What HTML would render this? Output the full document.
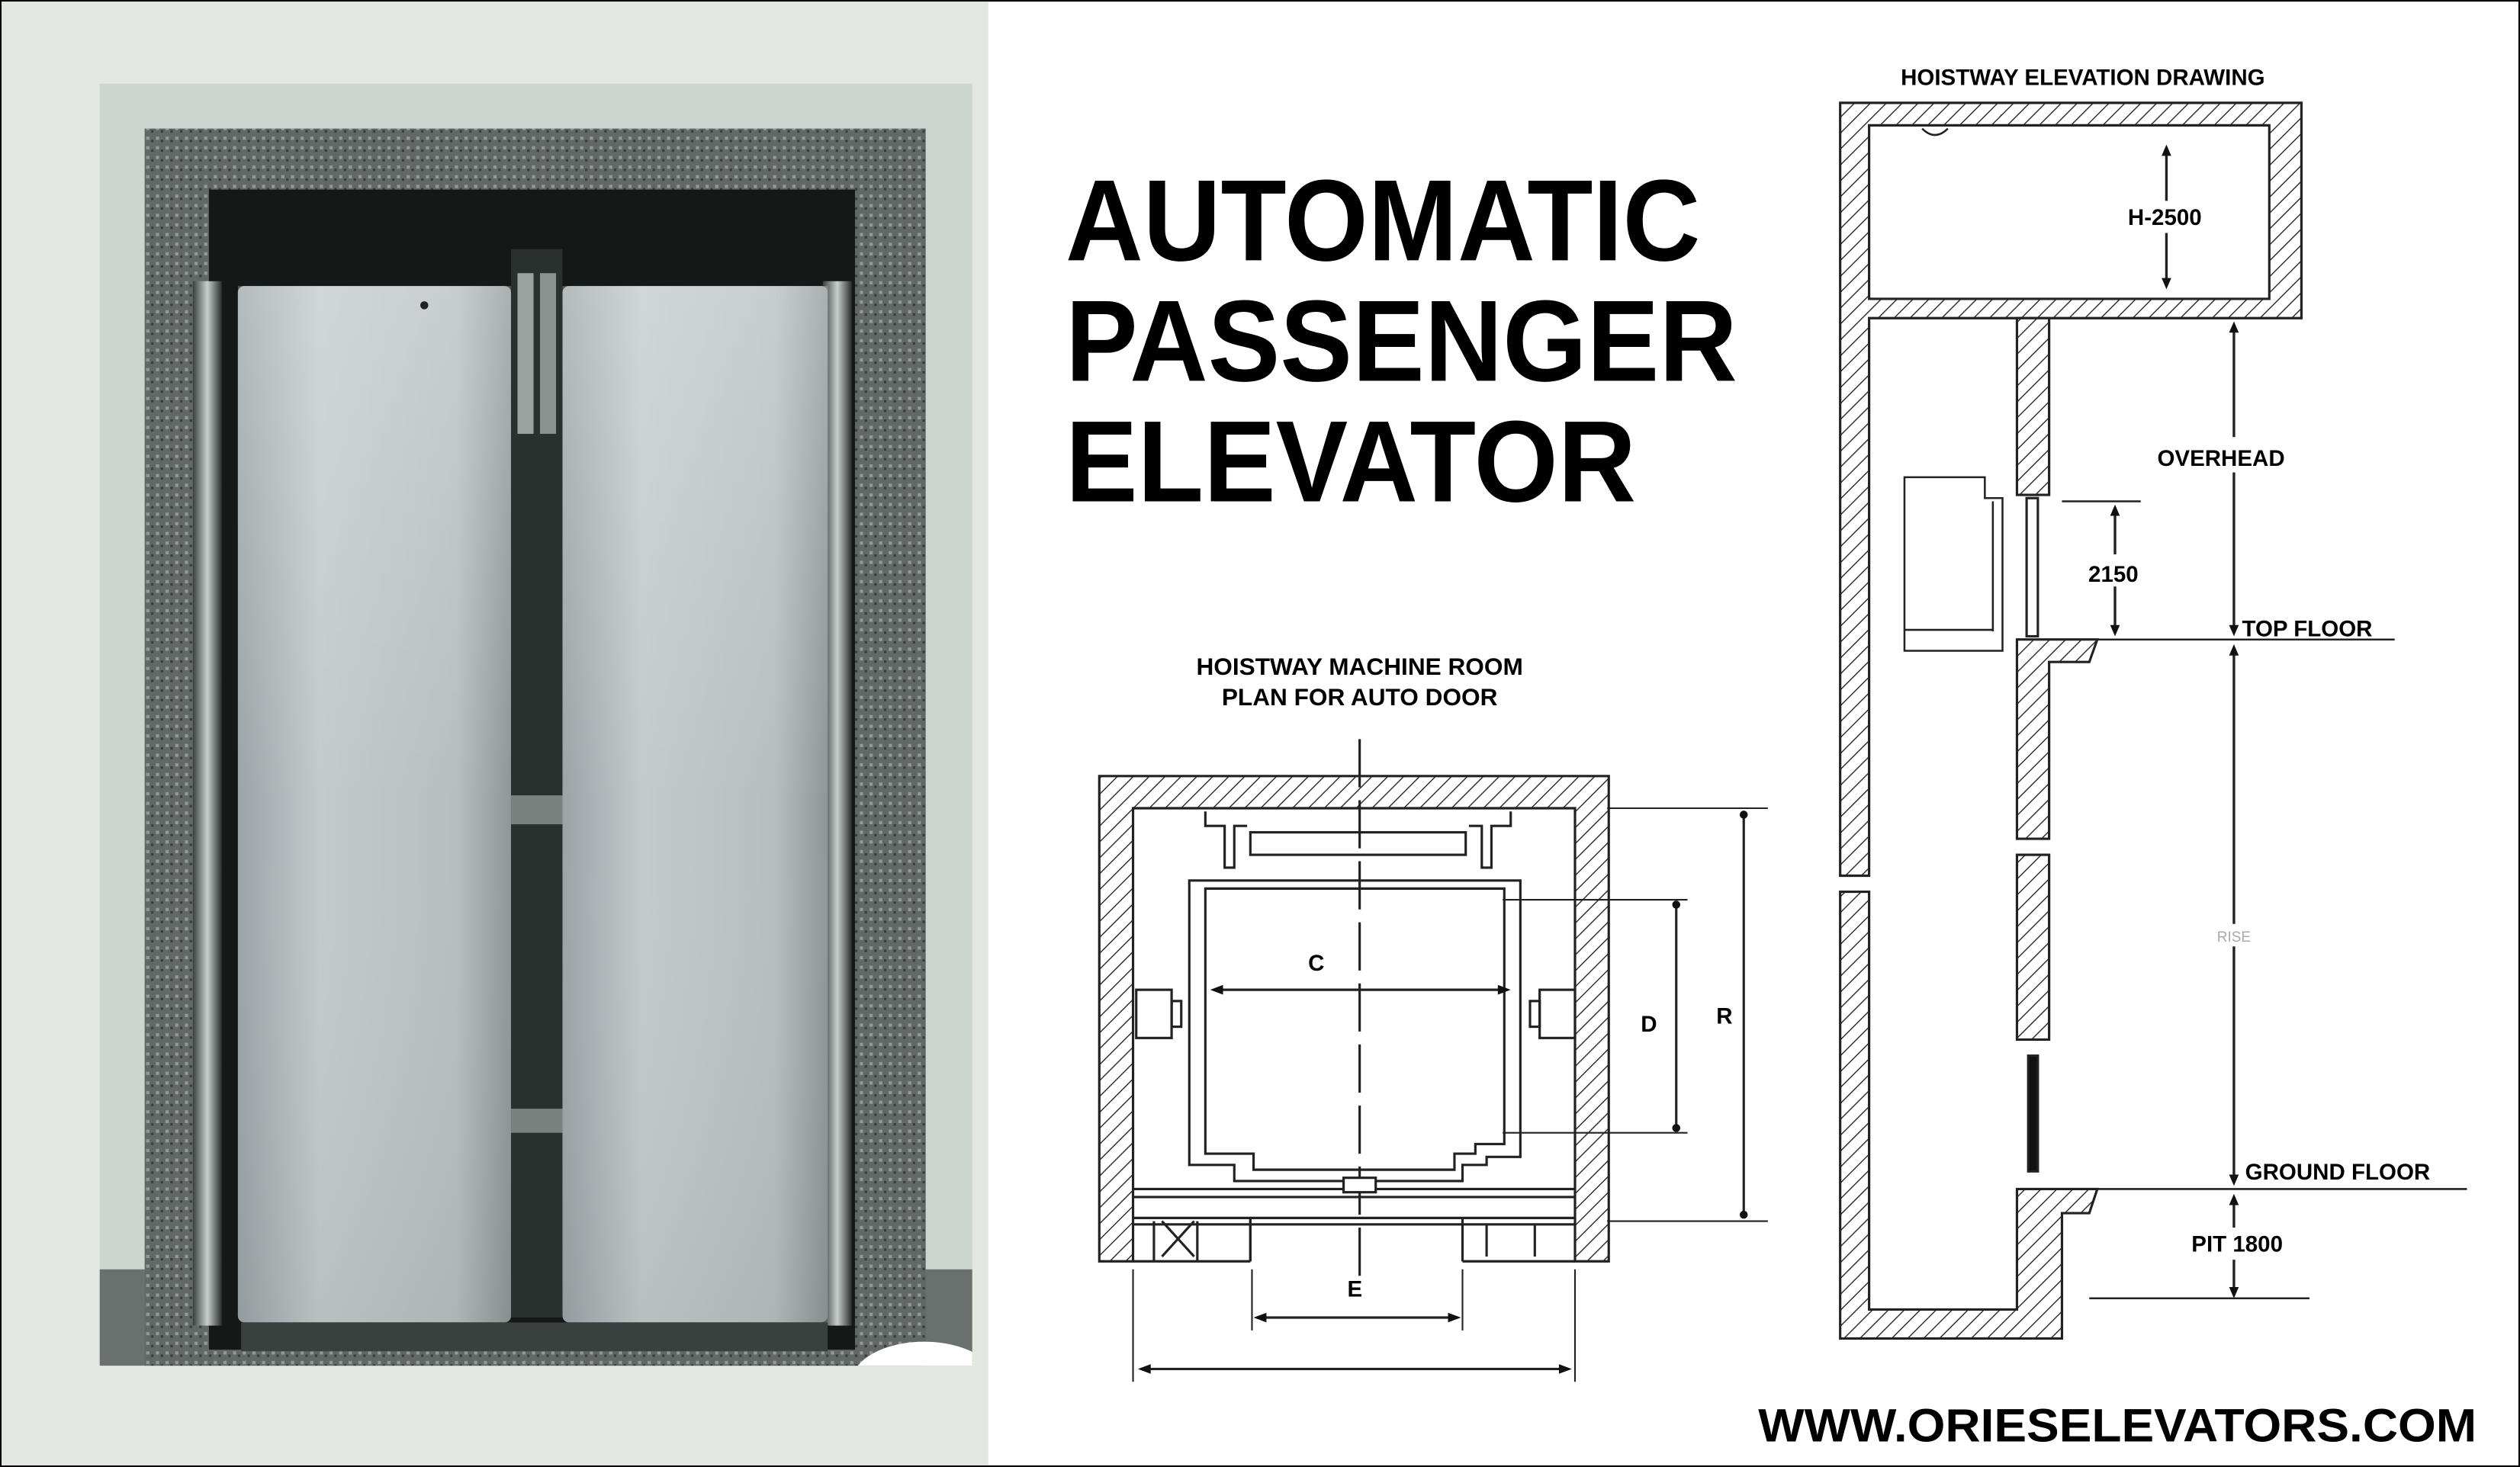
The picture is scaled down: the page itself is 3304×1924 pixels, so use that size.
<!DOCTYPE html>
<html><head><meta charset="utf-8">
<style>
html,body{margin:0;padding:0;background:#fff;}
svg{display:block;}
text{font-family:"Liberation Sans",Arial,sans-serif;font-weight:bold;fill:#000;}
</style></head>
<body>
<svg width="3304" height="1924" viewBox="0 0 1568 913" preserveAspectRatio="none" xmlns="http://www.w3.org/2000/svg">
<defs>
<pattern id="h" patternUnits="userSpaceOnUse" width="7" height="7" patternTransform="rotate(45)">
<rect width="7" height="7" fill="#fff"/><line x1="0" y1="0" x2="0" y2="7" stroke="#222" stroke-width="1.3"/>
</pattern>
<linearGradient id="door" x1="0" y1="0" x2="1" y2="0">
<stop offset="0" stop-color="#9aa4a6"/><stop offset="0.3" stop-color="#c2cacc"/><stop offset="0.8" stop-color="#b6bec0"/><stop offset="1" stop-color="#8e9698"/>
</linearGradient>
<linearGradient id="doorv" x1="0" y1="0" x2="0" y2="1">
<stop offset="0" stop-color="#ffffff" stop-opacity="0.25"/><stop offset="0.5" stop-color="#ffffff" stop-opacity="0"/><stop offset="1" stop-color="#000" stop-opacity="0.05"/>
</linearGradient>
<linearGradient id="jamb" x1="0" y1="0" x2="1" y2="0">
<stop offset="0" stop-color="#3a3f3e"/><stop offset="0.5" stop-color="#c8d0cc"/><stop offset="1" stop-color="#2a2e2d"/>
</linearGradient>
<pattern id="gran" patternUnits="userSpaceOnUse" width="6" height="6">
<rect width="6" height="6" fill="#626866"/><rect x="1" y="1" width="2" height="2" fill="#929996"/><rect x="4" y="3" width="1.5" height="1.5" fill="#383c3b"/>
</pattern>
<clipPath id="ph"><rect x="62" y="52" width="543" height="798"/></clipPath>
</defs>

<rect x="0.5" y="0.5" width="1567" height="912" fill="#fff" stroke="#000" stroke-width="1"/>

<rect x="1" y="1" width="614" height="911" fill="#e2e7e2"/>
<g clip-path="url(#ph)">
<rect x="62" y="52" width="543" height="798" fill="#cdd5d0"/>
<rect x="62" y="790" width="543" height="60" fill="#6a706e"/>
<rect x="90" y="80" width="486" height="770" fill="url(#gran)"/>
<rect x="130" y="118" width="402" height="722" fill="#141816"/>
<rect x="120" y="175" width="18" height="650" fill="url(#jamb)"/>
<rect x="512" y="175" width="18" height="650" fill="url(#jamb)"/>
<rect x="148" y="178" width="170" height="645" rx="4" fill="url(#door)"/>
<rect x="148" y="178" width="170" height="645" fill="url(#doorv)"/>
<rect x="350" y="178" width="165" height="645" rx="4" fill="url(#door)"/>
<rect x="350" y="178" width="165" height="645" fill="url(#doorv)"/>
<rect x="318" y="155" width="32" height="665" fill="#2a302e"/>
<rect x="322" y="170" width="10" height="100" fill="#9aa2a0"/>
<rect x="336" y="170" width="10" height="100" fill="#8a9290"/>
<rect x="318" y="495" width="32" height="18" fill="#7a827f"/>
<rect x="318" y="690" width="32" height="15" fill="#7a827f"/>
<rect x="150" y="823" width="365" height="18" fill="#3a403e"/>
<circle cx="264" cy="190" r="2.5" fill="#222"/>
<ellipse cx="575" cy="860" rx="45" ry="25" fill="#fff"/>
</g>

<text x="663" y="162" font-size="72" textLength="395" lengthAdjust="spacingAndGlyphs">AUTOMATIC</text>
<text x="663" y="237" font-size="72" textLength="418" lengthAdjust="spacingAndGlyphs">PASSENGER</text>
<text x="663" y="312" font-size="72" textLength="355" lengthAdjust="spacingAndGlyphs">ELEVATOR</text>

<text x="846" y="420" font-size="15" text-anchor="middle">HOISTWAY MACHINE ROOM</text>
<text x="846" y="439" font-size="15" text-anchor="middle">PLAN FOR AUTO DOOR</text>
<g stroke="#222" stroke-width="1.5" fill="none">
<path d="M684,483 H1001 V785 H980 V503 H705 V785 H684 Z" fill="url(#h)"/>
<line x1="846" y1="460" x2="846" y2="800" stroke-dasharray="30,8"/>
<path d="M750,505 V514 H762 V540 H768 V514 H776"/><path d="M940,505 V514 H928 V540 H922 V514 H914"/>
<rect x="778" y="518" width="134" height="14"/>
<path d="M740,548 H946 V720 H925 V725 H910 V735 H768 V725 H740 Z"/>
<path d="M750,553 H936 V712 H918 V718 H905 V728 H780 V718 H750 Z"/>
<line x1="705" y1="740" x2="980" y2="740"/>
<line x1="705" y1="745" x2="980" y2="745"/>
<line x1="705" y1="762" x2="980" y2="762"/>
<path d="M705,758 H778 V785 M705,785 H778"/>
<path d="M723,760 L743,782 M743,760 L723,782 M718,760 V785 M745,760 V785"/>
<path d="M910,758 H980 M910,785 H980 M910,758 V785 M925,762 V782 M955,762 V782"/>
<path d="M778,758 V785 M778,758 H910"/>
<rect x="836" y="733" width="20" height="9" fill="#fff"/>
<rect x="707" y="616" width="22" height="30"/><rect x="729" y="623" width="6" height="16"/>
<rect x="958" y="616" width="22" height="30"/><rect x="952" y="623" width="6" height="16"/>
<line x1="1000" y1="503" x2="1100" y2="503" stroke-width="1"/>
<line x1="1000" y1="760" x2="1100" y2="760" stroke-width="1"/>
<line x1="1085" y1="507" x2="1085" y2="756"/>
<line x1="935" y1="560" x2="1050" y2="560" stroke-width="1"/>
<line x1="935" y1="705" x2="1050" y2="705" stroke-width="1"/>
<line x1="1043" y1="563" x2="1043" y2="702"/>
<line x1="755" y1="616" x2="938" y2="616"/>
<line x1="705" y1="790" x2="705" y2="860" stroke-width="1"/><line x1="980" y1="790" x2="980" y2="860" stroke-width="1"/>
<line x1="710" y1="852" x2="976" y2="852"/>
<line x1="779" y1="790" x2="779" y2="828" stroke-width="1"/><line x1="910" y1="790" x2="910" y2="828" stroke-width="1"/>
<line x1="782" y1="820" x2="907" y2="820"/>
</g>
<g fill="#111">
<circle cx="1085" cy="507" r="2.5"/><circle cx="1085" cy="756" r="2.5"/>
<circle cx="1043" cy="563" r="2.5"/><circle cx="1043" cy="702" r="2.5"/>
<path d="M753,616 l8,-3 v6 z"/><path d="M940,616 l-8,-3 v6 z"/>
<path d="M708,852 l8,-3 v6 z"/><path d="M978,852 l-8,-3 v6 z"/>
<path d="M780,820 l8,-3 v6 z"/><path d="M909,820 l-8,-3 v6 z"/>
</g>
<text x="819" y="604" font-size="14" text-anchor="middle">C</text>
<text x="1026" y="642" font-size="14" text-anchor="middle">D</text>
<text x="1073" y="637" font-size="14" text-anchor="middle">R</text>
<text x="843" y="807" font-size="14" text-anchor="middle">E</text>

<text x="1296" y="53" font-size="14" text-anchor="middle">HOISTWAY ELEVATION DRAWING</text>
<g stroke="#222" stroke-width="1.5">
<path d="M1145,64 H1432 V198 H1163 V545 H1145 Z M1163,78 V186 H1412 V78 Z" fill="url(#h)" fill-rule="evenodd"/>
<path d="M1145,555 H1163 V815 H1255 V740 H1305 L1300,755 H1283 V833 H1145 Z" fill="url(#h)"/>
<rect x="1255" y="198" width="20" height="110" fill="url(#h)"/>
<path d="M1255,398 H1305 L1300,412 H1275 V522 H1255 Z" fill="url(#h)"/>
<rect x="1255" y="532" width="20" height="115" fill="url(#h)"/>
<rect x="1261" y="310" width="7" height="86" fill="#fff"/>
<rect x="1262" y="657" width="6" height="72" fill="#111"/>
<path d="M1185,297 H1235 V310 H1246 V405 H1185 Z" fill="#fff" stroke-width="1.2"/>
<line x1="1240" y1="312" x2="1240" y2="393" stroke-width="1.2"/>
<line x1="1185" y1="392" x2="1240" y2="392" stroke-width="1.2"/>
</g>
<g stroke="#222" stroke-width="1.2" fill="none">
<path d="M1196,80 q8,8 16,0"/>
<line x1="1275" y1="398" x2="1490" y2="398"/>
<line x1="1280" y1="740" x2="1535" y2="740"/>
<line x1="1300" y1="808" x2="1437" y2="808"/>
<line x1="1283" y1="312" x2="1332" y2="312"/>
<line x1="1348" y1="93" x2="1348" y2="177" stroke-width="1.6"/>
<line x1="1390" y1="203" x2="1390" y2="393" stroke-width="1.6"/>
<line x1="1390" y1="403" x2="1390" y2="735" stroke-width="1.6"/>
<line x1="1390" y1="745" x2="1390" y2="806" stroke-width="1.6"/>
<line x1="1316" y1="316" x2="1316" y2="394" stroke-width="1.6"/>
</g>
<rect x="1325" y="125" width="50" height="20" fill="#fff"/>
<rect x="1350" y="272" width="75" height="22" fill="#fff"/>
<rect x="1300" y="345" width="35" height="20" fill="#fff"/>
<rect x="1378" y="575" width="25" height="14" fill="#fff"/>
<rect x="1358" y="764" width="72" height="20" fill="#fff"/>
<g fill="#111">
<path d="M1348,90 l-3,7 h6 z"/><path d="M1348,180 l-3,-7 h6 z"/>
<path d="M1390,200 l-3,7 h6 z"/><path d="M1390,396 l-3,-7 h6 z"/>
<path d="M1390,401 l-3,7 h6 z"/><path d="M1390,738 l-3,-7 h6 z"/>
<path d="M1390,743 l-3,7 h6 z"/><path d="M1390,808 l-3,-7 h6 z"/>
<path d="M1316,314 l-3,7 h6 z"/><path d="M1316,396 l-3,-7 h6 z"/>
</g>
<text x="1347" y="140" font-size="14" text-anchor="middle">H-2500</text>
<text x="1382" y="290" font-size="14" text-anchor="middle">OVERHEAD</text>
<text x="1315" y="362" font-size="14" text-anchor="middle">2150</text>
<text x="1395" y="396" font-size="14">TOP FLOOR</text>
<text x="1390" y="586" font-size="9" text-anchor="middle" style="fill:#aaa;font-weight:normal">RISE</text>
<text x="1397" y="734" font-size="14">GROUND FLOOR</text>
<text x="1392" y="779" font-size="14" text-anchor="middle">PIT 1800</text>

<text x="1094" y="897" font-size="29" textLength="447" lengthAdjust="spacingAndGlyphs">WWW.ORIESELEVATORS.COM</text>
</svg>
</body></html>
